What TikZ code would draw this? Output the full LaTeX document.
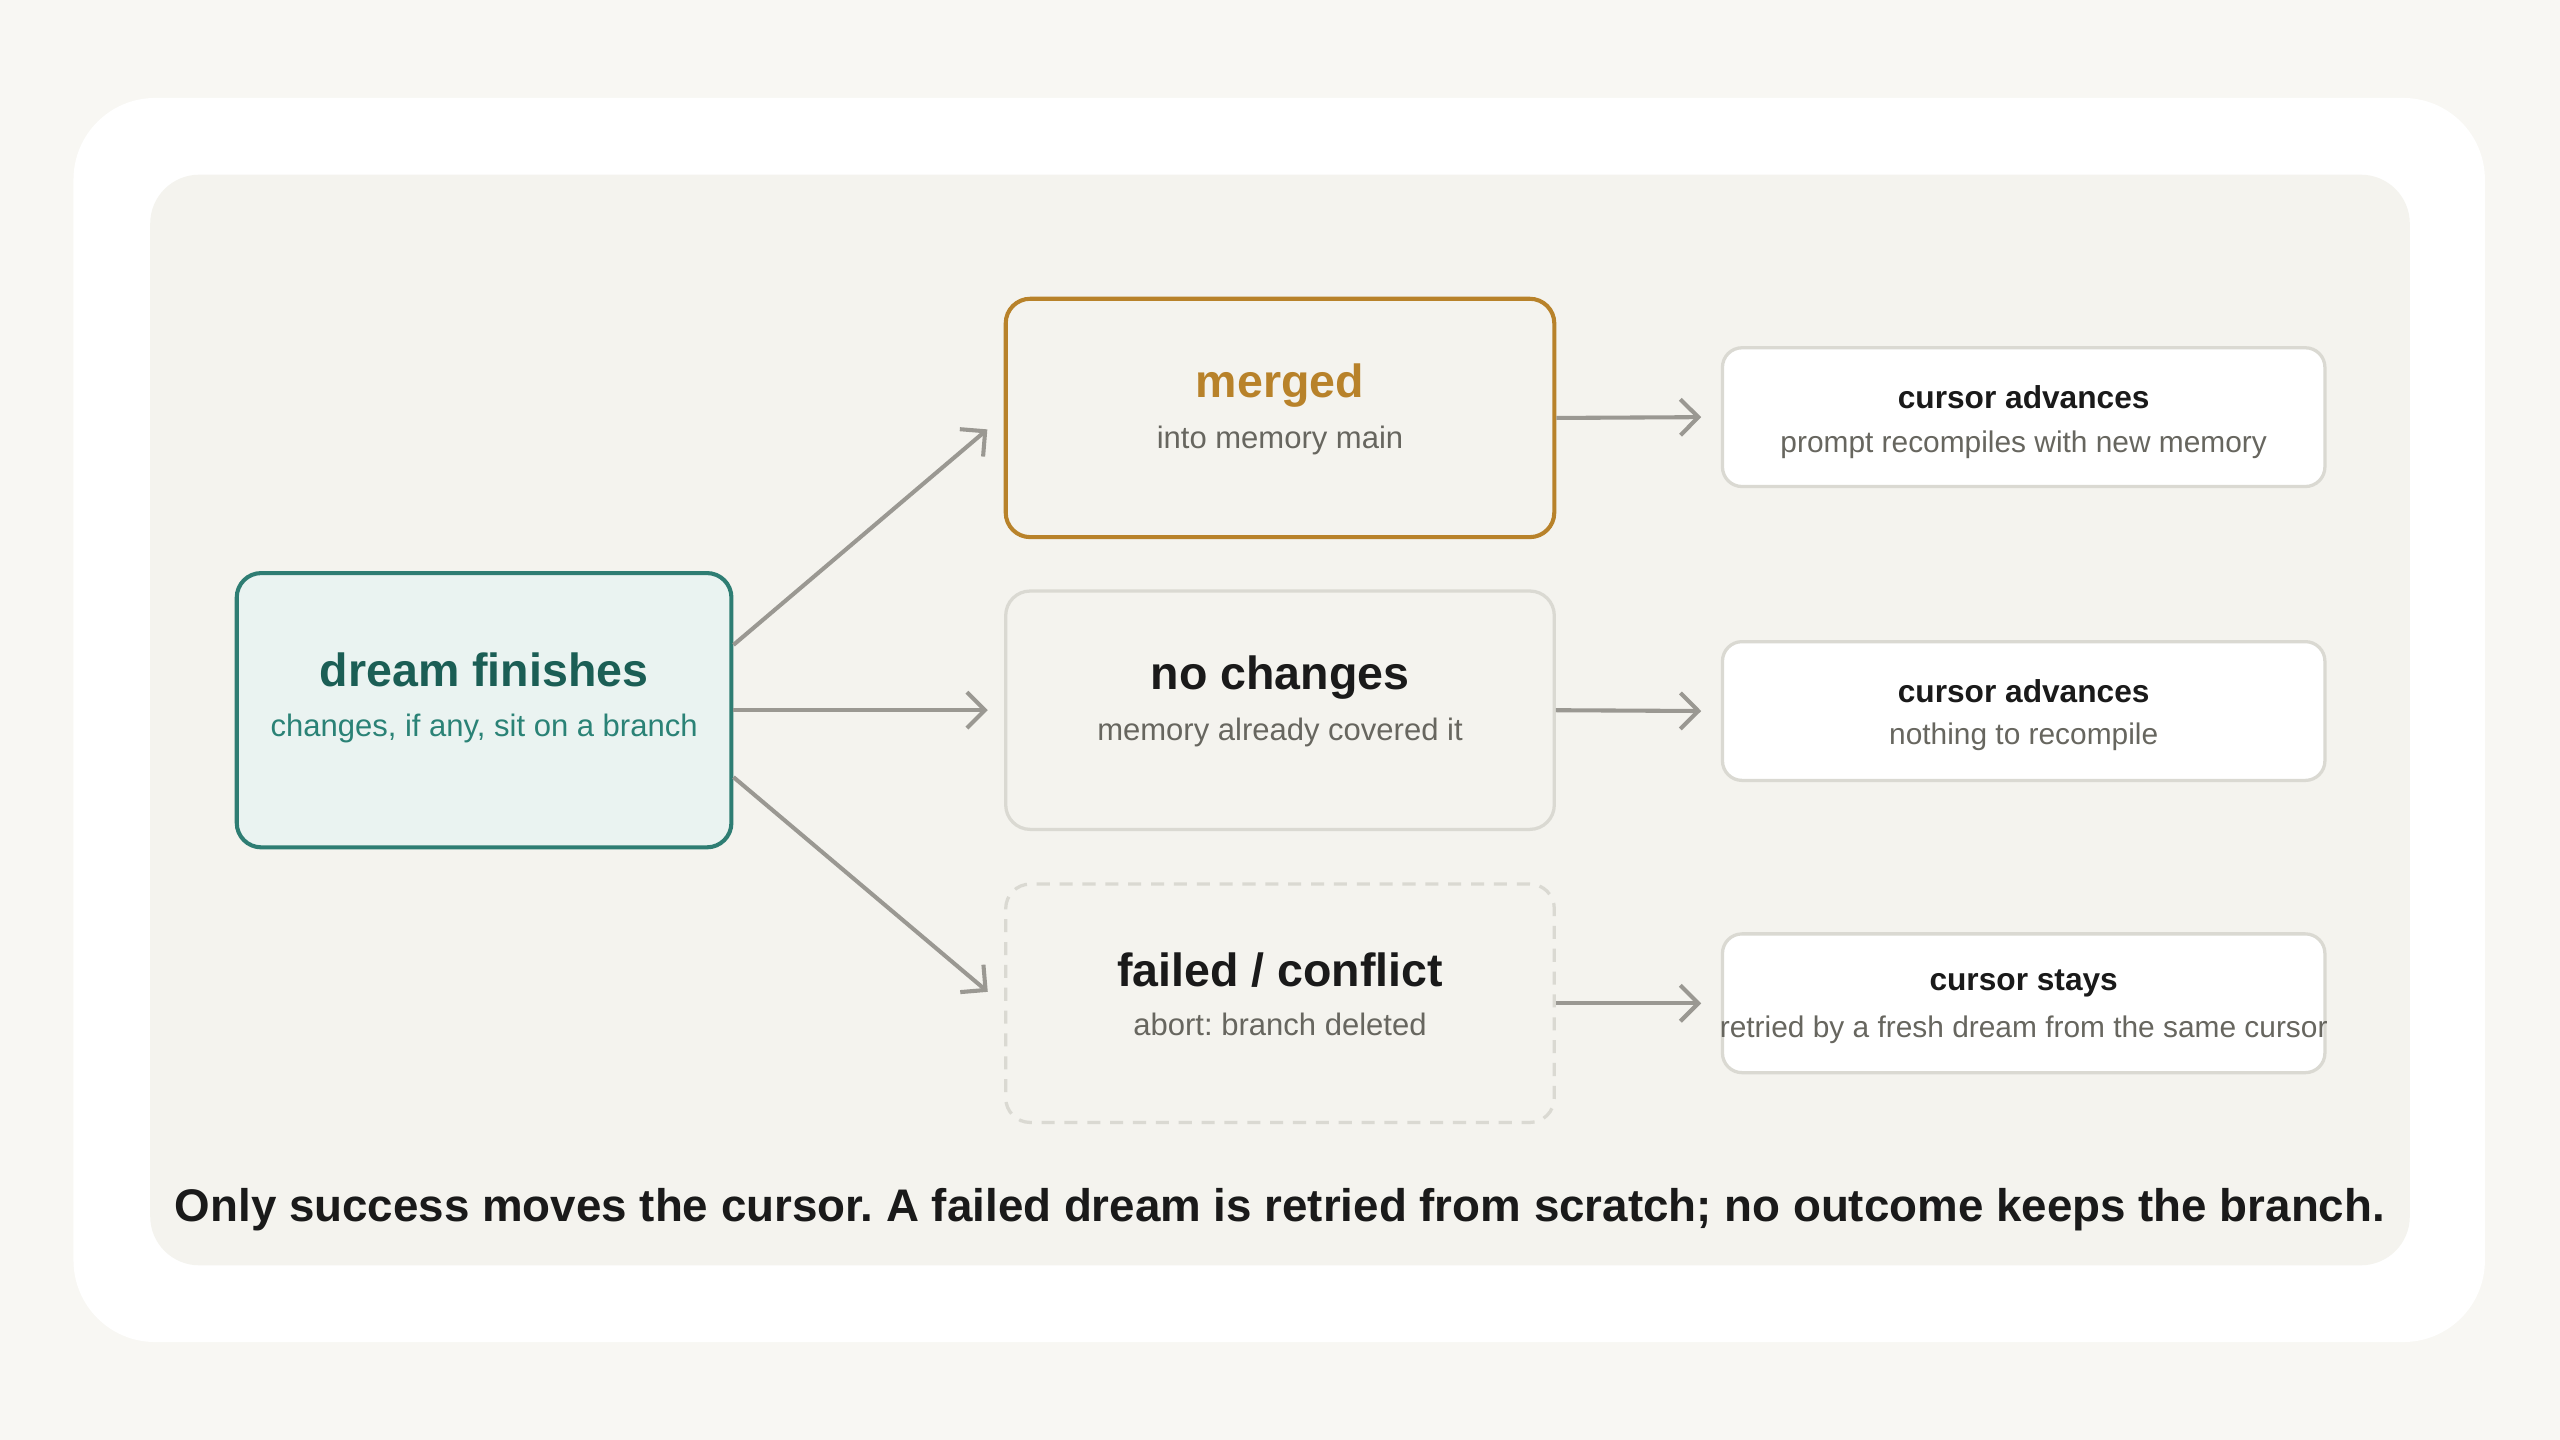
\documentclass[tikz,border=0pt]{standalone}
\usepackage{fontspec}
\setmainfont{Liberation Sans}
\frenchspacing
\usetikzlibrary{arrows.meta}

\definecolor{pagebg}{HTML}{F8F7F3}
\definecolor{panelbg}{HTML}{F4F3EE}
\definecolor{grayline}{HTML}{DAD9D2}
\definecolor{arrowgray}{HTML}{9A9892}
\definecolor{tealline}{HTML}{2E7D73}
\definecolor{tealfill}{HTML}{EAF3F1}
\definecolor{tealdark}{HTML}{1B5E55}
\definecolor{tealtext}{HTML}{2A8276}
\definecolor{gold}{HTML}{B8822A}
\definecolor{inkdark}{HTML}{1A1A1A}
\definecolor{inkgray}{HTML}{67665F}

\tikzset{
  midbox/.style={rounded corners=15pt, minimum width=336pt, minimum height=146pt, line width=2pt, draw=grayline, fill=panelbg},
  endbox/.style={rounded corners=12pt, minimum width=369pt, minimum height=85pt, line width=2pt, draw=grayline, fill=white},
  bigtitle/.style={font=\fontsize{28.5}{33}\selectfont\bfseries, text=inkdark},
  smalltitle/.style={font=\fontsize{19.4}{23}\selectfont\bfseries, text=inkdark},
  subtext/.style={font=\fontsize{19}{23}\selectfont, text=inkgray},
  endsub/.style={font=\fontsize{18.3}{22}\selectfont, text=inkgray},
  arr/.style={-{Straight Barb[length=11pt,width=22pt,line width=2.5pt]}, line width=2.5pt, draw=arrowgray}
}

\begin{document}
\begin{tikzpicture}[x=1pt, y=-1pt]
% Background
\fill[pagebg] (0,0) rectangle (1568,882);
\fill[white, rounded corners=50pt] (45,60) rectangle (1522,822);
\fill[panelbg, rounded corners=30pt] (92,107) rectangle (1476,775);

% Start
\node[midbox, minimum width=303pt, minimum height=168pt, line width=2.5pt, draw=tealline, fill=tealfill] (dream) at (296.5,435) {};
\node[bigtitle, text=tealdark] (dreamT) at (296.5,410) {dream finishes};
\node[subtext, text=tealtext] (dreamS) at (296.5,446) {changes, if any, sit on a branch};

% Outcomes
\node[midbox, line width=2.5pt, draw=gold] (merged) at (784,256) {};
\node[bigtitle, text=gold] (mergedT) at (784,236) {merged};
\node[subtext] (mergedS) at (784,269.5) {into memory main};

\node[midbox] (nochange) at (784,435) {};
\node[bigtitle] (nochangeT) at (784,415) {no changes};
\node[subtext] (nochangeS) at (784,448.5) {memory already covered it};

\node[midbox, dashed, dash pattern=on 8pt off 6pt] (failed) at (784,614.5) {};
\node[bigtitle] (failedT) at (784,594) {failed / conflict};
\node[subtext] (failedS) at (784,627.5) {abort: branch deleted};

% Cursor
\node[endbox] (adv1) at (1239.5,255.5) {};
\node[smalltitle] (adv1T) at (1239.5,243.5) {cursor advances};
\node[endsub] (adv1S) at (1239.5,272.5) {prompt recompiles with new memory};

\node[endbox] (adv2) at (1239.5,435.5) {};
\node[smalltitle] (adv2T) at (1239.5,423.5) {cursor advances};
\node[endsub] (adv2S) at (1239.5,451.5) {nothing to recompile};

\node[endbox] (stay) at (1239.5,614.5) {};
\node[smalltitle] (stayT) at (1239.5,602.5) {cursor stays};
\node[endsub] (stayS) at (1239.5,630.5) {retried by a fresh dream from the same cursor};

% Arrows
\draw[arr] ([yshift=40pt]dream.east) -- ([xshift=-10pt,yshift=-7pt]merged.west);
\draw[arr] (dream.east) -- ([xshift=-10pt]nochange.west);
\draw[arr] ([yshift=-41pt]dream.east) -- ([xshift=-10pt,yshift=7pt]failed.west);

\draw[arr] (merged.east) -- ([xshift=-12pt]adv1.west);
\draw[arr] (nochange.east) -- ([xshift=-12pt]adv2.west);
\draw[arr] (failed.east) -- ([xshift=-12pt]stay.west);

% Caption
\node[font=\fontsize{28}{32}\selectfont\bfseries, text=inkdark] (caption) at (784,741) {Only success moves the cursor. A failed dream is retried from scratch; no outcome keeps the branch.};
\end{tikzpicture}
\end{document}
